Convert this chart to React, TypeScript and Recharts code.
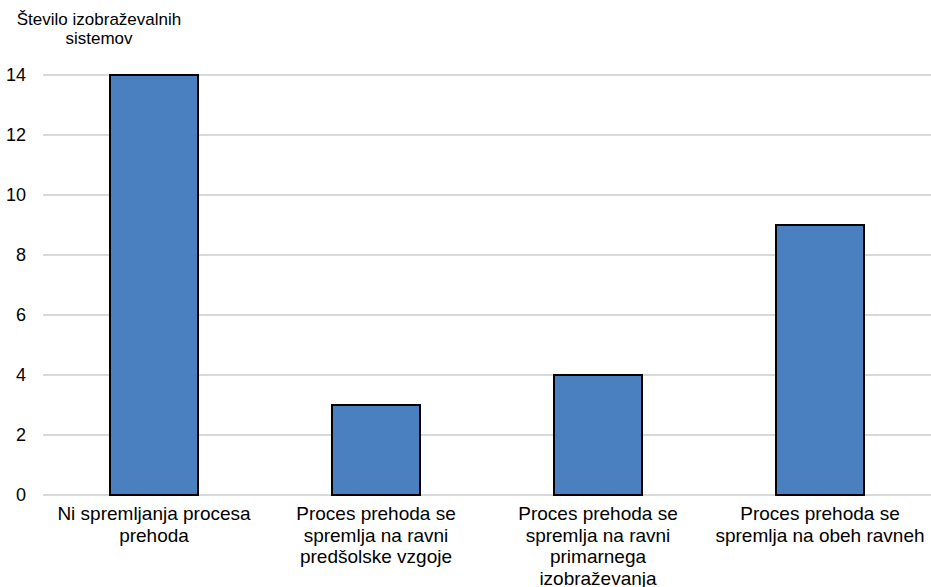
import React from 'react';
import { BarChart, Bar, XAxis, YAxis, CartesianGrid } from 'recharts';

// Categories (line breaks marked with "\n") and the number of systems in each
const categories = [
  'Ni spremljanja procesa\nprehoda',
  'Proces prehoda se\nspremlja na ravni\npredšolske vzgoje',
  'Proces prehoda se\nspremlja na ravni\nprimarnega\nizobraževanja',
  'Proces prehoda se\nspremlja na obeh ravneh',
];
const systemCounts = [14, 3, 4, 9];
const yTicks = [0, 2, 4, 6, 8, 10, 12, 14];
const yAxisTitle = ['Število izobraževalnih', 'sistemov'];

const data = categories.map((name, i) => ({ name, value: systemCounts[i] }));

const FONT = '"Liberation Sans", Arial, sans-serif';

const CategoryTick = (props: any) => {
  const { x, y, payload } = props;
  const lines = String(payload.value).split('\n');
  return (
    <text x={x} y={y + 25} textAnchor="middle" fill="#000" fontSize={19} fontFamily={FONT}>
      {lines.map((line, i) => (
        <tspan key={i} x={x} dy={i === 0 ? 0 : 21.5}>
          {line}
        </tspan>
      ))}
    </text>
  );
};

export default function App() {
  return (
    <div style={{ position: 'absolute', left: 0, top: 0, width: 931, height: 587, background: '#fff' }}>
      <BarChart
        width={931}
        height={587}
        data={data}
        margin={{ top: 75, right: 0, bottom: 0, left: 0 }}
        barSize={88}
      >
        <CartesianGrid vertical={false} stroke="#d9d9d9" strokeWidth={2} />
        <XAxis
          dataKey="name"
          axisLine={false}
          tickLine={false}
          tickSize={0}
          tickMargin={0}
          height={92}
          interval={0}
          tick={<CategoryTick />}
        />
        <YAxis
          width={43}
          domain={[0, 14]}
          ticks={yTicks}
          axisLine={false}
          tickLine={false}
          tickMargin={11}
          tick={{ fill: '#000', fontSize: 18, fontFamily: FONT }}
        />
        <Bar dataKey="value" fill="#4a7fc0" stroke="#000" strokeWidth={2} isAnimationActive={false} />
      </BarChart>
      <div
        style={{
          position: 'absolute',
          left: 0,
          top: 10,
          width: 198,
          textAlign: 'center',
          fontFamily: FONT,
          fontSize: 17,
          lineHeight: '19px',
          color: '#000',
        }}
      >
        {yAxisTitle.map((line) => (
          <div key={line}>{line}</div>
        ))}
      </div>
    </div>
  );
}
